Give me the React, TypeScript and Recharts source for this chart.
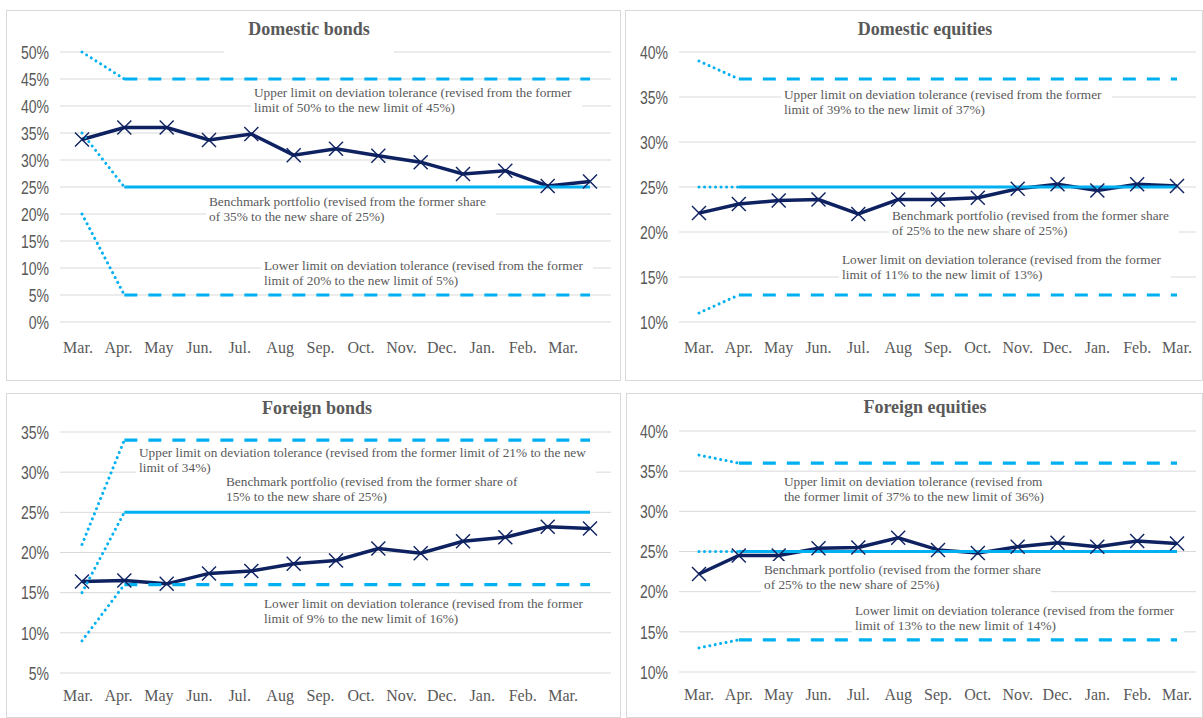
import { LineChart, Line, XAxis, YAxis, CartesianGrid } from 'recharts'

const months = ['Mar.', 'Apr.', 'May', 'Jun.', 'Jul.', 'Aug', 'Sep.', 'Oct.', 'Nov.', 'Dec.', 'Jan.', 'Feb.', 'Mar.']

// former / revised shares: [upper limit, benchmark, lower limit]
const domesticBondsActual = [33.8, 36.0, 36.0, 33.7, 34.8, 30.9, 32.1, 30.8, 29.6, 27.4, 28.0, 25.2, 26.0]
const domesticBondsFormer = [50, 35, 20]
const domesticBondsRevised = [45, 25, 5]
const domesticBondsTicks = [0, 5, 10, 15, 20, 25, 30, 35, 40, 45, 50]

const domesticEquitiesActual = [22.1, 23.1, 23.5, 23.6, 22.0, 23.6, 23.6, 23.8, 24.8, 25.3, 24.6, 25.3, 25.1]
const domesticEquitiesFormer = [39, 25, 11]
const domesticEquitiesRevised = [37, 25, 13]
const domesticEquitiesTicks = [10, 15, 20, 25, 30, 35, 40]

const foreignBondsActual = [16.4, 16.5, 16.1, 17.4, 17.7, 18.6, 19.0, 20.5, 19.9, 21.4, 21.9, 23.2, 23.0]
const foreignBondsFormer = [21, 15, 9]
const foreignBondsRevised = [34, 25, 16]
const foreignBondsTicks = [5, 10, 15, 20, 25, 30, 35]

const foreignEquitiesActual = [22.2, 24.5, 24.5, 25.4, 25.5, 26.7, 25.2, 24.8, 25.6, 26.1, 25.6, 26.3, 26.0]
const foreignEquitiesFormer = [37, 25, 13]
const foreignEquitiesRevised = [36, 25, 14]
const foreignEquitiesTicks = [10, 15, 20, 25, 30, 35, 40]

const NAVY = '#0E2160'
const SKY = '#00B0F0'
const GREY_TEXT = '#595959'
const SERIF = "'Liberation Serif', 'Times New Roman', serif"
const SANS = "'Liberation Sans', Arial, sans-serif"

function buildRows(actual: number[], former: number[], revised: number[]) {
  return months.map((m, i) => ({
    month: m,
    actual: actual[i],
    upper: i >= 1 ? revised[0] : null,
    bench: i >= 1 ? revised[1] : null,
    lower: i >= 1 ? revised[2] : null,
    upperMove: i === 0 ? former[0] : i === 1 ? revised[0] : null,
    benchMove: i === 0 ? former[1] : i === 1 ? revised[1] : null,
    lowerMove: i === 0 ? former[2] : i === 1 ? revised[2] : null,
  }))
}

function CrossDot(props: any) {
  const { cx, cy, index } = props
  if (cx == null || cy == null) return <g key={index} />
  const r = 7
  return (
    <g key={index}>
      <line x1={cx - r} y1={cy - r} x2={cx + r} y2={cy + r} stroke={NAVY} strokeWidth={1.4} />
      <line x1={cx - r} y1={cy + r} x2={cx + r} y2={cy - r} stroke={NAVY} strokeWidth={1.4} />
    </g>
  )
}

// narrow percent labels, like Arial Narrow
function PercentTick(props: any) {
  const { x, y, payload } = props
  return (
    <text transform={`translate(${x},${y}) scale(0.78,1)`} textAnchor="end" dominantBaseline="central"
      fill={GREY_TEXT} fontSize={18} fontFamily={SANS}>
      {`${payload.value}%`}
    </text>
  )
}

type Note = { x: number; y: number; lines: string[] }

type PanelProps = {
  title: string
  titleX: number
  titleY: number
  titleBox?: { width: number; height: number }
  left: number
  top: number
  width: number
  height: number
  margin: { top: number; right: number; bottom: number; left: number }
  pad: { left: number; right: number }
  domain: [number, number]
  ticks: number[]
  rows: ReturnType<typeof buildRows>
  notes: Note[]
  labelDy: number
  labelScale: number
  labelShift: number
}

const Y_WIDTH = 50

function Panel(p: PanelProps) {
  const anchor = p.margin.left + Y_WIDTH + p.pad.left
  const MonthTick = (props: any) => {
    const x = anchor + p.labelShift + (props.x - anchor) * p.labelScale
    return (
      <text x={x} y={props.y + p.labelDy} textAnchor="middle" dominantBaseline="central"
        fill={GREY_TEXT} fontSize={16} fontFamily={SERIF}>
        {props.payload.value}
      </text>
    )
  }
  return (
    <div style={{ position: 'absolute', left: p.left, top: p.top, width: p.width, height: p.height }}>
      <div style={{ position: 'absolute', inset: 0, border: '1px solid #D9D9D9', boxSizing: 'border-box' }} />
      <LineChart width={p.width} height={p.height} data={p.rows} margin={p.margin}
        style={{ position: 'absolute', left: 0, top: 0 }}>
        <CartesianGrid vertical={false} stroke="#D9D9D9" strokeWidth={1} />
        <XAxis dataKey="month" padding={p.pad} axisLine={false} tickLine={false}
          interval={0} height={30} tick={<MonthTick />} />
        <YAxis domain={p.domain} ticks={p.ticks} width={Y_WIDTH} axisLine={false} tickLine={false}
          tickMargin={5} tick={<PercentTick />} />
        <Line dataKey="actual" stroke={NAVY} strokeWidth={3.5} dot={<CrossDot />} isAnimationActive={false} />
        <Line dataKey="upperMove" stroke={SKY} strokeWidth={3} strokeDasharray="0.01 5.5" strokeLinecap="round" dot={false} isAnimationActive={false} />
        <Line dataKey="benchMove" stroke={SKY} strokeWidth={3} strokeDasharray="0.01 5.5" strokeLinecap="round" dot={false} isAnimationActive={false} />
        <Line dataKey="lowerMove" stroke={SKY} strokeWidth={3} strokeDasharray="0.01 5.5" strokeLinecap="round" dot={false} isAnimationActive={false} />
        <Line dataKey="upper" stroke={SKY} strokeWidth={3.2} strokeDasharray="13 11" dot={false} isAnimationActive={false} />
        <Line dataKey="lower" stroke={SKY} strokeWidth={3.2} strokeDasharray="13 11" dot={false} isAnimationActive={false} />
        <Line dataKey="bench" stroke={SKY} strokeWidth={3} dot={false} isAnimationActive={false} />
      </LineChart>
      {p.titleBox && (
        <div style={{
          position: 'absolute', left: p.titleX - p.titleBox.width / 2, top: p.titleY - 12,
          width: p.titleBox.width, height: p.titleBox.height, background: '#fff',
        }} />
      )}
      <div style={{
        position: 'absolute', left: p.titleX - 120, top: p.titleY - 11, width: 240, textAlign: 'center',
        fontFamily: SERIF, fontWeight: 'bold', fontSize: 18, lineHeight: '22px', color: GREY_TEXT,
      }}>{p.title}</div>
      {p.notes.map((n, i) => (
        <div key={i} style={{
          position: 'absolute', left: n.x - 3, top: n.y - 1, padding: '1px 10px 1px 3px', background: '#fff',
          fontFamily: SERIF, fontSize: 13.3, lineHeight: '15px', color: GREY_TEXT, whiteSpace: 'pre',
        }}>{n.lines.join('\n')}</div>
      ))}
    </div>
  )
}

export default function App() {
  return (
    <div style={{ position: 'absolute', left: 0, top: 0, width: 1203, height: 718, background: '#fff', overflow: 'hidden' }}>
      <Panel title="Domestic bonds" titleX={303} titleY={19} titleBox={{ width: 170, height: 36 }}
        left={6} top={10} width={615} height={371}
        margin={{ top: 42, right: 10, bottom: 29, left: 4 }} pad={{ left: 22, right: 21 }}
        domain={[0, 50]} ticks={domesticBondsTicks}
        rows={buildRows(domesticBondsActual, domesticBondsFormer, domesticBondsRevised)}
        labelDy={17} labelScale={0.955} labelShift={-4}
        notes={[
          { x: 248, y: 75, lines: ['Upper limit on deviation tolerance (revised from the former', 'limit of 50% to the new limit of 45%)'] },
          { x: 203, y: 184, lines: ['Benchmark portfolio (revised from the former share', 'of 35% to the new share of 25%)'] },
          { x: 258, y: 248, lines: ['Lower limit on deviation tolerance (revised from the former', 'limit of 20% to the new limit of 5%)'] },
        ]} />
      <Panel title="Domestic equities" titleX={300} titleY={19}
        left={625} top={10} width={578} height={371}
        margin={{ top: 42, right: 7, bottom: 29, left: 4 }} pad={{ left: 20, right: 19 }}
        domain={[10, 40]} ticks={domesticEquitiesTicks}
        rows={buildRows(domesticEquitiesActual, domesticEquitiesFormer, domesticEquitiesRevised)}
        labelDy={17} labelScale={1} labelShift={0}
        notes={[
          { x: 159, y: 77, lines: ['Upper limit on deviation tolerance (revised from the former', 'limit of 39% to the new limit of 37%)'] },
          { x: 267, y: 198, lines: ['Benchmark portfolio (revised from the former share', 'of 25% to the new share of 25%)'] },
          { x: 217, y: 242, lines: ['Lower limit on deviation tolerance (revised from the former', 'limit of 11% to the new limit of 13%)'] },
        ]} />
      <Panel title="Foreign bonds" titleX={311} titleY={15}
        left={6} top={393} width={615} height={325}
        margin={{ top: 39, right: 10, bottom: 15, left: 4 }} pad={{ left: 22, right: 21 }}
        domain={[5, 35]} ticks={foreignBondsTicks}
        rows={buildRows(foreignBondsActual, foreignBondsFormer, foreignBondsRevised)}
        labelDy={14} labelScale={0.955} labelShift={-4}
        notes={[
          { x: 133, y: 52, lines: ['Upper limit on deviation tolerance (revised from the former limit of 21% to the new', 'limit of 34%)'] },
          { x: 220, y: 81, lines: ['Benchmark portfolio (revised from the former share of', '15% to the new share of 25%)'] },
          { x: 258, y: 203, lines: ['Lower limit on deviation tolerance (revised from the former', 'limit of 9% to the new limit of 16%)'] },
        ]} />
      <Panel title="Foreign equities" titleX={299} titleY={14}
        left={626} top={393} width={577} height={325}
        margin={{ top: 38, right: 7, bottom: 16, left: 3 }} pad={{ left: 20, right: 19 }}
        domain={[10, 40]} ticks={foreignEquitiesTicks}
        rows={buildRows(foreignEquitiesActual, foreignEquitiesFormer, foreignEquitiesRevised)}
        labelDy={14} labelScale={1} labelShift={0}
        notes={[
          { x: 158, y: 81, lines: ['Upper limit on deviation tolerance (revised from', 'the former limit of 37% to the new limit of 36%)'] },
          { x: 138, y: 169, lines: ['Benchmark portfolio (revised from the former share', 'of 25% to the new share of 25%)'] },
          { x: 229, y: 210, lines: ['Lower limit on deviation tolerance (revised from the former', 'limit of 13% to the new limit of 14%)'] },
        ]} />
    </div>
  )
}
